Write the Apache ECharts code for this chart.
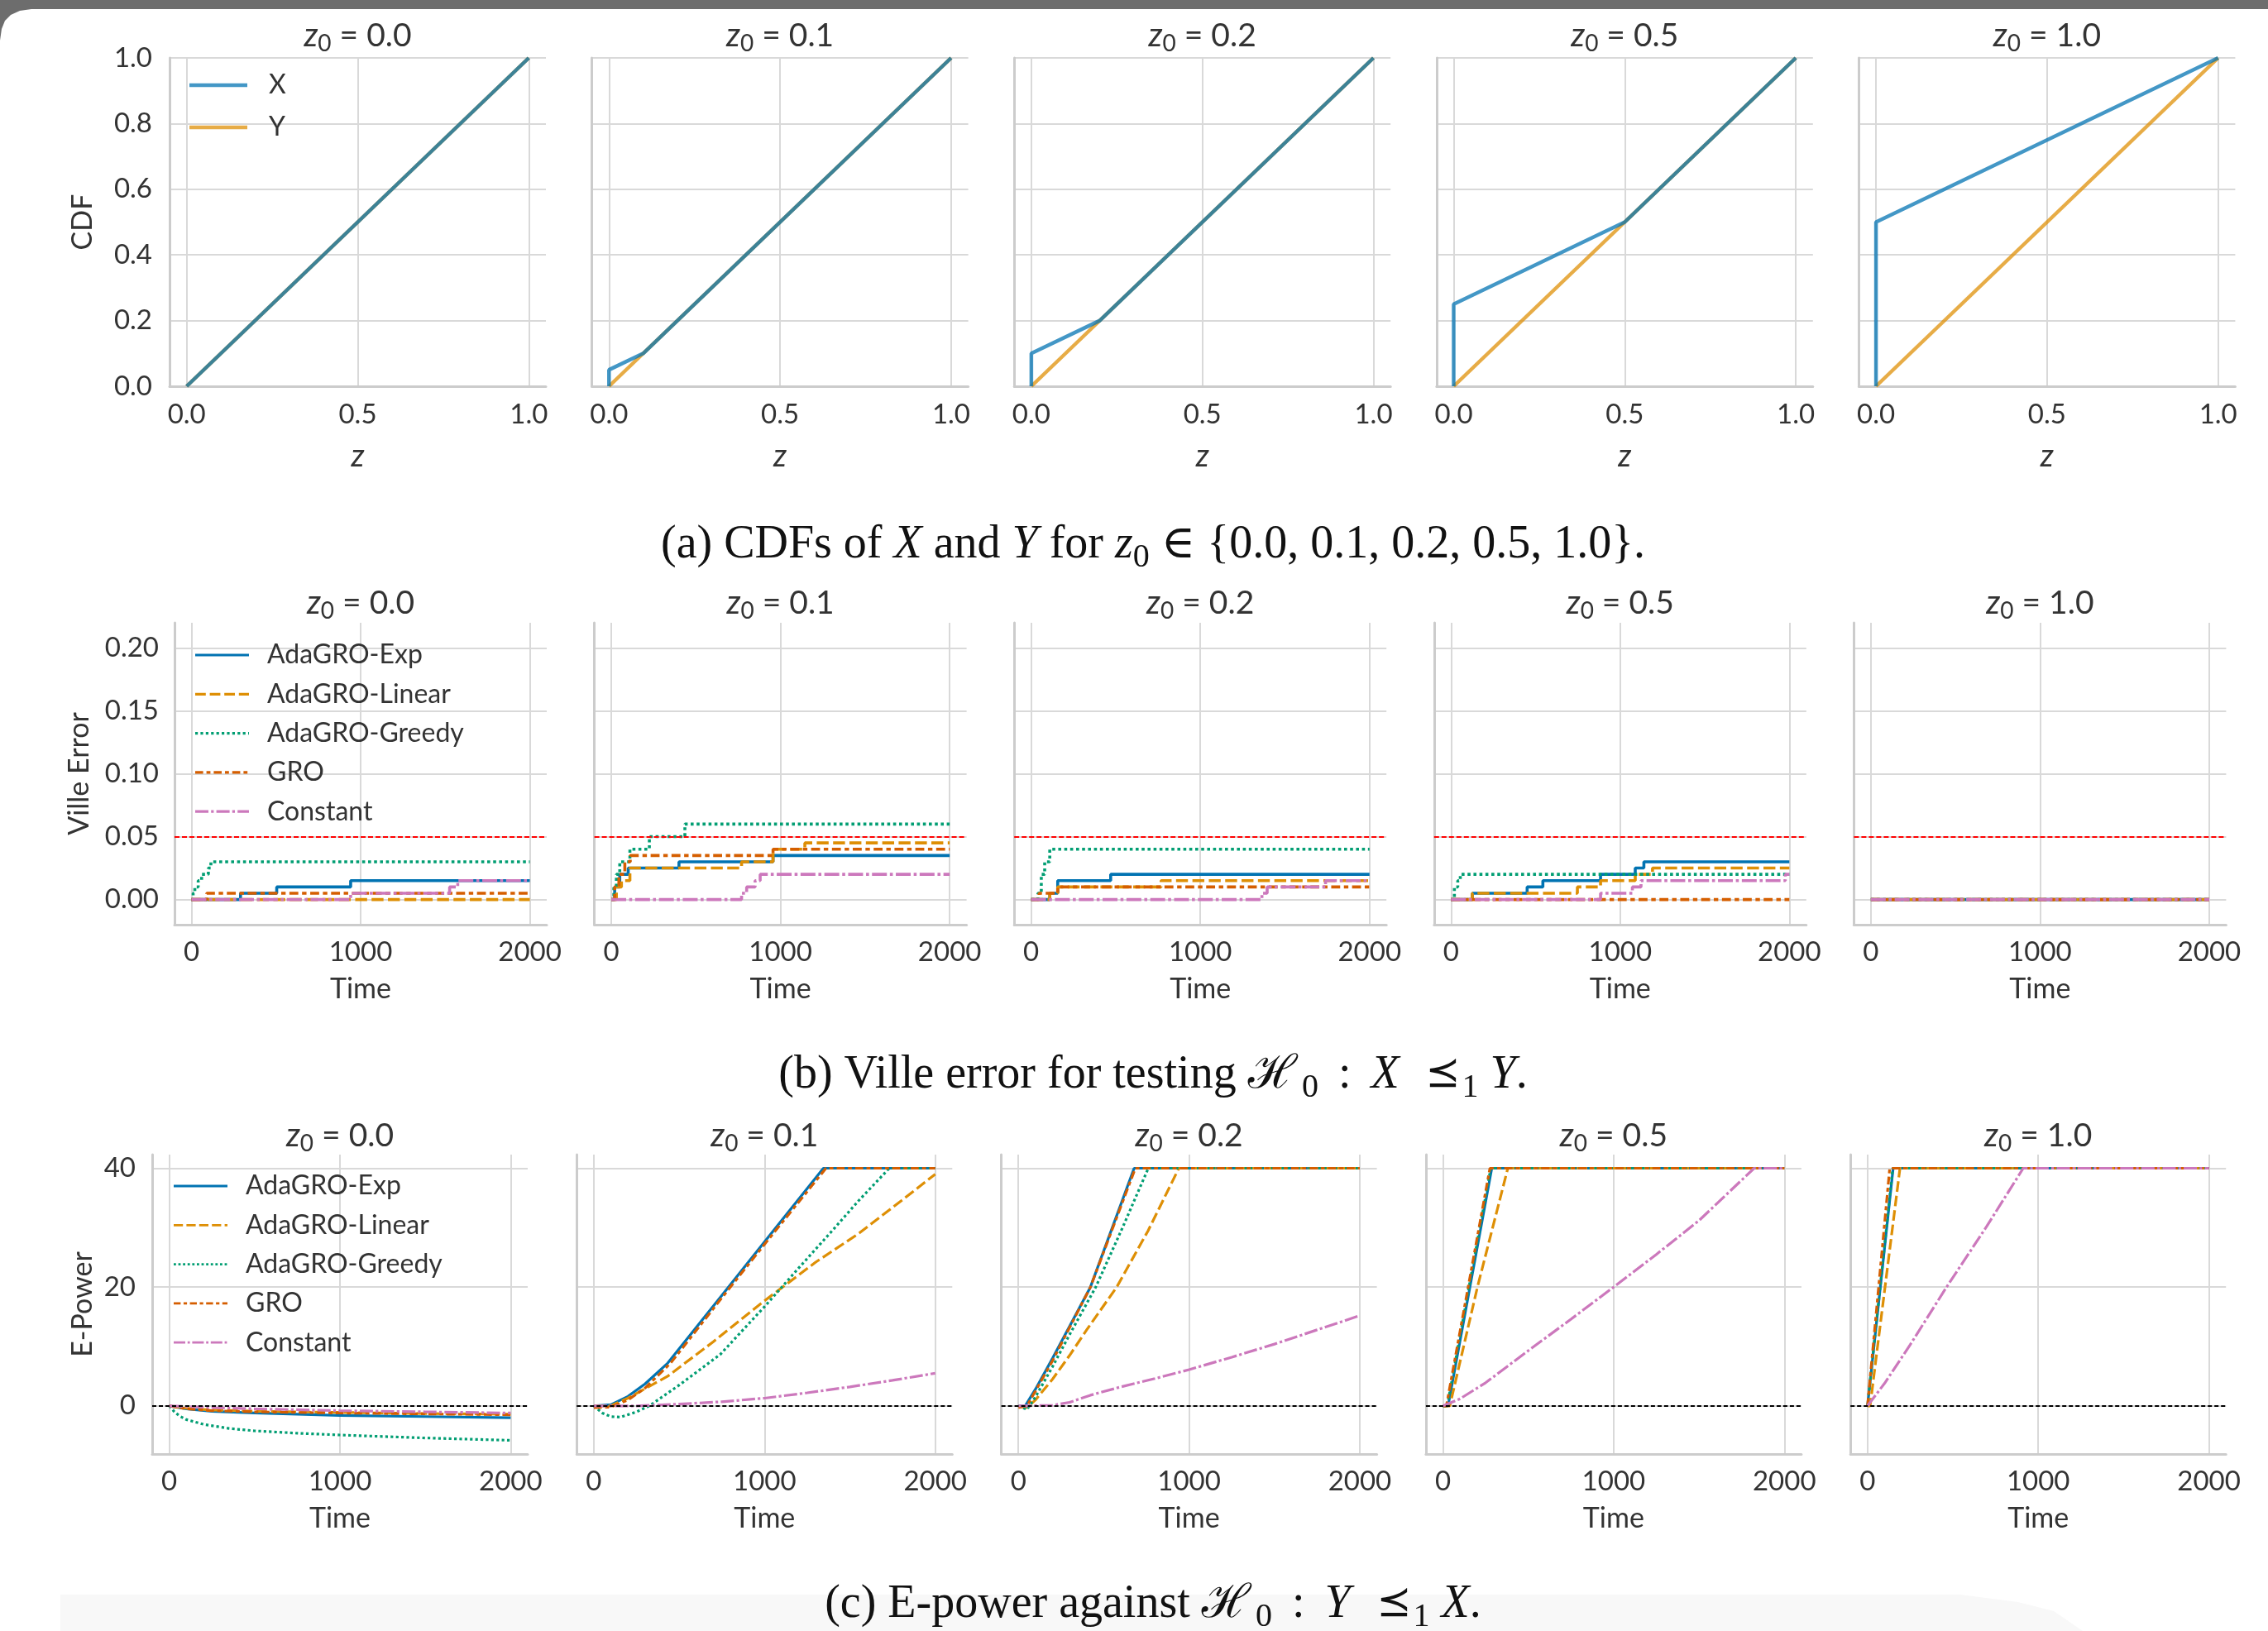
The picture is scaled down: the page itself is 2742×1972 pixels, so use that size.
<!DOCTYPE html>
<html><head><meta charset="utf-8">
<script src="https://cdn.jsdelivr.net/npm/echarts@6/dist/echarts.min.js"></script>
<style>html,body{margin:0;padding:0;background:#fff}#c{width:2742px;height:1972px}</style>
</head><body><div id="c"></div>
<script>
// ---------------- DATA ----------------
const z0Labels = ['0.0', '0.1', '0.2', '0.5', '1.0'];
const cdfXTicks = [0, 0.5, 1.0];
const cdfYTicks = [0, 0.2, 0.4, 0.6, 0.8, 1.0];
const timeTicks = [0, 1000, 2000];
const villeTicks = [0, 0.05, 0.10, 0.15, 0.20];
const epowerTicks = [0, 20, 40];
const alphaLevel = 0.05;
const epowerRef = 0;
const cdfNames = ['X', 'Y'];
const methods = ['AdaGRO-Exp', 'AdaGRO-Linear', 'AdaGRO-Greedy', 'GRO', 'Constant'];

// (a) CDFs
const cdfX = [
  [[0, 0], [1, 1]],
  [[0, 0], [0, 0.05], [0.1, 0.1], [1, 1]],
  [[0, 0], [0, 0.1], [0.2, 0.2], [1, 1]],
  [[0, 0], [0, 0.25], [0.5, 0.5], [1, 1]],
  [[0, 0], [0, 0.5], [1, 1]]
];
const cdfY = [
  [[0, 0], [1, 1]],
  [[0, 0], [1, 1]],
  [[0, 0], [1, 1]],
  [[0, 0], [1, 1]],
  [[0, 0], [1, 1]]
];

// (b) Ville error (step functions: [time, value])
const villeExp = [
  [[0, 0], [290, 0.005], [504, 0.01], [941, 0.015], [2000, 0.015]],
  [[0, 0], [20, 0.01], [50, 0.02], [100, 0.025], [400, 0.03], [956, 0.035], [2000, 0.035]],
  [[0, 0], [110, 0.005], [157, 0.015], [470, 0.02], [2000, 0.02]],
  [[0, 0], [126, 0.005], [450, 0.01], [543, 0.015], [884, 0.02], [1089, 0.025], [1140, 0.03], [2000, 0.03]],
  [[0, 0], [2000, 0]]
];
const villeLinear = [
  [[0, 0], [2000, 0]],
  [[0, 0], [30, 0.01], [60, 0.015], [110, 0.025], [770, 0.03], [956, 0.04], [1144, 0.045], [2000, 0.045]],
  [[0, 0], [110, 0.005], [157, 0.01], [768, 0.015], [2000, 0.015]],
  [[0, 0], [126, 0.005], [747, 0.01], [884, 0.015], [1089, 0.02], [1191, 0.025], [2000, 0.025]],
  [[0, 0], [2000, 0]]
];
const villeGreedy = [
  [[0, 0], [10, 0.005], [20, 0.01], [40, 0.015], [60, 0.02], [100, 0.025], [115, 0.03], [2000, 0.03]],
  [[0, 0], [15, 0.01], [30, 0.02], [50, 0.03], [110, 0.04], [225, 0.05], [435, 0.06], [2000, 0.06]],
  [[0, 0], [40, 0.005], [60, 0.02], [80, 0.03], [110, 0.04], [2000, 0.04]],
  [[0, 0], [20, 0.01], [40, 0.015], [55, 0.02], [2000, 0.02]],
  [[0, 0], [2000, 0]]
];
const villeGRO = [
  [[0, 0], [90, 0.005], [2000, 0.005]],
  [[0, 0], [20, 0.01], [45, 0.02], [80, 0.03], [112, 0.035], [956, 0.04], [2000, 0.04]],
  [[0, 0], [47, 0.005], [157, 0.01], [2000, 0.01]],
  [[0, 0], [2000, 0]],
  [[0, 0], [2000, 0]]
];
const villeConstant = [
  [[0, 0], [941, 0.005], [1526, 0.01], [1574, 0.015], [2000, 0.015]],
  [[0, 0], [770, 0.005], [800, 0.01], [850, 0.015], [880, 0.02], [2000, 0.02]],
  [[0, 0], [1364, 0.005], [1395, 0.01], [1740, 0.015], [2000, 0.015]],
  [[0, 0], [884, 0.005], [1072, 0.01], [1123, 0.015], [1976, 0.02], [2000, 0.02]],
  [[0, 0], [2000, 0]]
];

// (c) E-power
const epExp = [
  [[0, 0], [100, -0.5], [250, -0.9], [500, -1.2], [1000, -1.6], [1500, -1.8], [2000, -2.0]],
  [[0, 0], [100, 0.2], [200, 1.6], [300, 3.7], [433, 7.2], [750, 18.6], [1000, 27.6], [1345, 40], [2000, 40]],
  [[0, 0], [40, 0], [100, 2.8], [200, 8], [422, 20], [678, 40], [2000, 40]],
  [[0, 0], [30, 0], [286, 40], [2000, 40]],
  [[0, 0], [150, 40], [2000, 40]]
];
const epLinear = [
  [[0, 0], [100, -0.4], [250, -0.7], [500, -0.9], [1000, -1.1], [1500, -1.3], [2000, -1.4]],
  [[0, 0], [100, 0], [200, 1.3], [300, 2.9], [433, 5], [700, 10.8], [1000, 17.7], [1300, 24.2], [1546, 28.9], [1800, 34.5], [2000, 39]],
  [[0, 0], [50, -0.3], [100, 1.0], [200, 4.5], [300, 8.5], [400, 12.8], [576, 20], [760, 29.5], [940, 40], [2000, 40]],
  [[0, 0], [40, 0], [202, 20], [380, 40], [2000, 40]],
  [[0, 0], [15, 0], [190, 40], [2000, 40]]
];
const epGreedy = [
  [[0, 0], [30, -1], [60, -1.7], [100, -2.3], [200, -3.1], [350, -3.8], [500, -4.2], [750, -4.6], [1000, -4.9], [1500, -5.4], [2000, -5.8]],
  [[0, 0], [50, -1.2], [100, -1.8], [155, -1.9], [250, -1.0], [325, 0], [500, 3.5], [742, 8.7], [1000, 16.7], [1200, 23.2], [1400, 29.6], [1550, 34.5], [1731, 40], [2000, 40]],
  [[0, 0], [50, -0.6], [100, 1.5], [200, 6.6], [300, 12], [453, 20], [610, 30], [761, 40], [2000, 40]],
  [[0, 0], [25, 0], [280, 40], [2000, 40]],
  [[0, 0], [148, 40], [2000, 40]]
];
const epGRO = [
  [[0, 0], [100, -0.5], [250, -0.8], [500, -1.0], [1000, -1.2], [1500, -1.35], [2000, -1.5]],
  [[0, -0.3], [100, -0.2], [200, 1.0], [300, 3.0], [450, 7.2], [750, 18.2], [1000, 27.2], [1360, 40], [2000, 40]],
  [[0, -0.3], [50, 0], [100, 2.5], [200, 7.6], [422, 20], [685, 40], [2000, 40]],
  [[0, 0], [20, 0], [275, 40], [2000, 40]],
  [[0, 0], [130, 40], [2000, 40]]
];
const epConstant = [
  [[0, 0], [100, -0.1], [250, -0.3], [500, -0.5], [1000, -0.8], [1500, -1.0], [2000, -1.2]],
  [[0, 0], [250, 0], [500, 0.3], [750, 0.7], [1000, 1.3], [1250, 2.2], [1500, 3.2], [1750, 4.3], [2000, 5.5]],
  [[0, 0], [200, 0.1], [300, 0.6], [422, 1.8], [600, 3.2], [800, 4.6], [1000, 6.1], [1250, 8.2], [1500, 10.4], [1750, 12.8], [2000, 15.2]],
  [[0, 0], [100, 1.2], [250, 3.9], [500, 9.3], [750, 14.6], [1000, 20], [1250, 25.5], [1500, 31.2], [1823, 40], [2000, 40]],
  [[0, 0], [100, 3.8], [250, 10.3], [463, 20], [700, 30.3], [912, 40], [2000, 40]]
];
const villeData = [villeExp, villeLinear, villeGreedy, villeGRO, villeConstant];
const epowerData = [epExp, epLinear, epGreedy, epGRO, epConstant];

// ---------------- STYLE ----------------
const FONT = 'Lato, "Open Sans", "DejaVu Sans", sans-serif';
const SERIF = '"Liberation Serif", "DejaVu Serif", serif';
const TXT = '#333333';
const COLORS = ['#0173b2', '#de8f05', '#029e73', '#d55e00', '#cc78bc'];
const CDF_COLORS = ['rgba(1,115,178,0.74)', 'rgba(222,143,5,0.74)'];
const DASH = [null, [4, 1.5], [1, 1], [3, 1.25, 1.5, 1.25], [5, 1, 1, 1]];
const dashFor = (mi, lw) => DASH[mi] ? DASH[mi].map(d => d * lw) : 'solid';
const LW_A = 4.5, LW_B = 3.6, LW_C = 3.2;
const TICK_FS = 33, NAME_FS = 34;

const rows = [
  {top: 70, height: 397, left0: 205, step: 510.6, width: 455},
  {top: 753, height: 365, left0: 211, step: 507.6, width: 450},
  {top: 1396, height: 362, left0: 184, step: 513.3, width: 454}
];
const titleY = [43, 729, 1373];

const grids = [], xAxes = [], yAxes = [], series = [], titles = [], graphics = [];

function axis(gi, o) {
  return {
    gridIndex: gi, type: 'value', min: o.min, max: o.max,
    axisLine: {show: true, onZero: false, lineStyle: {color: '#cccccc', width: 3}},
    axisTick: {show: false, customValues: o.ticks},
    axisLabel: {show: o.labels, customValues: o.ticks, formatter: o.fmt, color: TXT,
      fontSize: TICK_FS, fontFamily: FONT, margin: o.margin},
    splitLine: {show: true, lineStyle: {color: '#d9d9d9', width: 2}},
    name: o.name || '', nameLocation: 'middle', nameGap: o.nameGap,
    nameTextStyle: {color: TXT, fontSize: o.italic ? 38 : NAME_FS, fontFamily: FONT, fontStyle: o.italic ? 'italic' : 'normal'}
  };
}

const subRich = {
  i: {fontStyle: 'italic', fontSize: 40, fontFamily: FONT, color: TXT, fontWeight: 'normal'},
  s: {fontSize: 28, fontFamily: FONT, color: TXT, padding: [20, 0, 0, 0], fontWeight: 'normal'},
  n: {fontSize: 39, fontFamily: FONT, color: TXT, fontWeight: 'normal'}
};

for (let r = 0; r < 3; r++) {
  const R = rows[r];
  for (let k = 0; k < 5; k++) {
    const gi = r * 5 + k;
    const left = R.left0 + R.step * k;
    grids.push({left: left, top: R.top, width: R.width, height: R.height, containLabel: false, outerBoundsMode: 'none'});
    titles.push({
      text: '{i|z}{s|0}{n| = ' + z0Labels[k] + '}',
      left: left + R.width / 2, top: titleY[r], textAlign: 'center', textVerticalAlign: 'middle', padding: 0,
      textStyle: {fontWeight: 'normal', fontFamily: FONT, fontSize: 39, color: TXT, rich: subRich}
    });
    if (r === 0) {
      xAxes.push(axis(gi, {min: -0.05, max: 1.05, ticks: cdfXTicks, fmt: v => v.toFixed(1), labels: true, margin: 18, name: 'z', nameGap: 66, italic: true}));
      yAxes.push(axis(gi, {min: 0, max: 1, ticks: cdfYTicks, fmt: v => v.toFixed(1), labels: k === 0, margin: 21, name: k === 0 ? 'CDF' : '', nameGap: 88}));
      series.push({type: 'line', name: 'Y', xAxisIndex: gi, yAxisIndex: gi, data: cdfY[k], symbol: 'none', silent: true,
        lineStyle: {color: CDF_COLORS[1], width: LW_A}, itemStyle: {color: CDF_COLORS[1]}});
      series.push({type: 'line', name: 'X', xAxisIndex: gi, yAxisIndex: gi, data: cdfX[k], symbol: 'none', silent: true,
        lineStyle: {color: CDF_COLORS[0], width: LW_A}, itemStyle: {color: CDF_COLORS[0]}});
    } else if (r === 1) {
      xAxes.push(axis(gi, {min: -100, max: 2100, ticks: timeTicks, fmt: v => String(v), labels: true, margin: 17, name: 'Time', nameGap: 61}));
      yAxes.push(axis(gi, {min: -0.02, max: 0.22, ticks: villeTicks, fmt: v => v.toFixed(2), labels: k === 0, margin: 19, name: k === 0 ? 'Ville Error' : '', nameGap: 98}));
      methods.forEach((m, mi) => {
        const s = {type: 'line', name: m, xAxisIndex: gi, yAxisIndex: gi, data: villeData[mi][k], step: 'end', symbol: 'none', silent: true,
          lineStyle: {color: COLORS[mi], width: LW_B, type: dashFor(mi, LW_B)}, itemStyle: {color: COLORS[mi]}};
        if (mi === 0) s.markLine = {silent: true, symbol: 'none', label: {show: false}, animation: false,
          lineStyle: {color: '#ff0000', width: 2, type: [6, 3]}, data: [{yAxis: alphaLevel}]};
        series.push(s);
      });
    } else {
      xAxes.push(axis(gi, {min: -100, max: 2100, ticks: timeTicks, fmt: v => String(v), labels: true, margin: 17, name: 'Time', nameGap: 61}));
      yAxes.push(axis(gi, {min: -8.1, max: 42.3, ticks: epowerTicks, fmt: v => String(v), labels: k === 0, margin: 20, name: k === 0 ? 'E-Power' : '', nameGap: 67}));
      methods.forEach((m, mi) => {
        const s = {type: 'line', name: m, xAxisIndex: gi, yAxisIndex: gi, data: epowerData[mi][k], symbol: 'none', silent: true,
          lineStyle: {color: COLORS[mi], width: LW_C, type: dashFor(mi, LW_C)}, itemStyle: {color: COLORS[mi]}};
        if (mi === 0) s.markLine = {silent: true, symbol: 'none', label: {show: false}, animation: false,
          lineStyle: {color: '#000000', width: 2, type: [5, 3]}, data: [{yAxis: epowerRef}]};
        series.push(s);
      });
    }
  }
}

// captions (plain text parts use the base serif style)
const CAP_FS = 56;
const capBase = {fontFamily: SERIF, fontSize: CAP_FS, color: '#111', fontWeight: 'normal'};
const capRich = {
  i: {fontFamily: SERIF, fontSize: CAP_FS, color: '#111', fontStyle: 'italic', fontWeight: 'normal'},
  s: {fontFamily: SERIF, fontSize: 40, color: '#111', padding: [30, 0, 0, 0], fontWeight: 'normal'},
  cal: {fontFamily: '"DejaVu Serif", "Noto Sans", serif', fontStyle: 'italic', fontSize: 56, color: '#111', fontWeight: 'normal', padding: [0, 6, 0, 0]},
  col: {fontFamily: SERIF, fontSize: CAP_FS, color: '#111', fontWeight: 'normal', padding: [0, 24, 0, 24]},
  rel: {fontFamily: '"DejaVu Sans", "Noto Sans", sans-serif', fontSize: 50, color: '#111', fontWeight: 'normal', padding: [0, 2, 0, 18]}
};
const captions = [
  ['(a) CDFs of {i|X} and {i|Y} for {i|z}{s|0} ∈ {0.0, 0.1, 0.2, 0.5, 1.0}.', 659],
  ['(b) Ville error for testing {cal|ℋ}{s|0}{col|:}{i|X} {rel|⪯}{s|1} {i|Y}.', 1300],
  ['(c) E-power against {cal|ℋ}{s|0}{col|:}{i|Y} {rel|⪯}{s|1} {i|X}.', 1940]
];
captions.forEach(c => titles.push({text: c[0], left: 1394, top: c[1], textAlign: 'center', textVerticalAlign: 'middle', padding: 0,
  textStyle: Object.assign({rich: capRich}, capBase)}));

// legends (drawn as graphic line + text)
function legendItems(names, colors, dashes, lw, x0, len, tx, y0, dy) {
  names.forEach((n, i) => {
    const y = y0 + dy * i;
    graphics.push({type: 'line', silent: true, z: 50, shape: {x1: x0, y1: y, x2: x0 + len, y2: y},
      style: {stroke: colors[i], lineWidth: lw, lineDash: dashes[i] ? dashes[i].map(d => d * lw) : null}});
    graphics.push({type: 'text', silent: true, z: 50, x: tx, y: y,
      style: {text: n, fontSize: 32, fontFamily: FONT, fill: TXT, align: 'left', verticalAlign: 'middle', textAlign: 'left', textVerticalAlign: 'middle'}});
  });
}
legendItems(cdfNames, CDF_COLORS, [null, null], LW_A, 229, 70, 325, 103, 51);
legendItems(methods, COLORS, DASH, 3.2, 236, 65, 323, 792, 47.3);
legendItems(methods, COLORS, DASH, 2.8, 210, 65, 297, 1434, 47.3);

// screenshot frame pieces
graphics.push({type: 'polygon', silent: true, z: -5,
  shape: {points: [[73, 1928], [2370, 1928], [2440, 1937], [2483, 1948], [2518, 1972], [73, 1972]]},
  style: {fill: '#f8f8f8'}});
graphics.push({type: 'polygon', silent: true, z: 100,
  shape: {points: [[0, 0], [2742, 0], [2742, 11], [38, 11], [24, 13], [13, 18], [6, 25], [2, 35], [0, 49]]},
  style: {fill: '#6d6d6d'}});

const chart = echarts.init(document.getElementById('c'), null, {renderer: 'canvas', width: 2742, height: 1972});
chart.setOption({
  backgroundColor: '#ffffff',
  animation: false,
  title: titles,
  grid: grids,
  xAxis: xAxes,
  yAxis: yAxes,
  series: series,
  graphic: graphics
});
</script>
</body></html>
